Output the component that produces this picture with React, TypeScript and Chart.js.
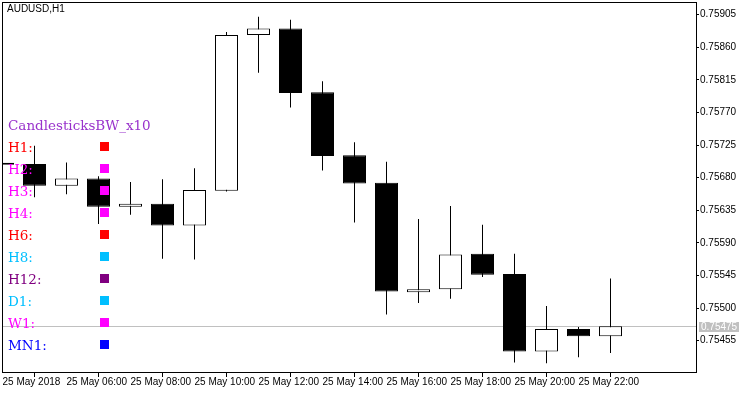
import React, { useEffect, useRef } from "react";
import { Chart, registerables } from "chart.js";

Chart.register(...registerables);

// ---- data ----
const hours = [4, 5, 6, 7, 8, 9, 10, 11, 12, 13, 14, 15, 16, 17, 18, 19, 20, 21, 22, 23];
const opens = [0.75699, 0.75699, 0.75669, 0.75679, 0.7564, 0.75644, 0.75614, 0.75662, 0.75877, 0.75886, 0.75798, 0.75711, 0.75673, 0.75522, 0.75526, 0.75575, 0.75547, 0.7544, 0.75471, 0.75461];
const highs = [0.757, 0.75724, 0.75701, 0.75682, 0.75674, 0.75678, 0.75693, 0.75881, 0.75902, 0.75898, 0.75813, 0.75729, 0.75702, 0.75623, 0.75641, 0.75615, 0.75575, 0.75503, 0.75474, 0.75541];
const lows = [0.75697, 0.75653, 0.75657, 0.75616, 0.75629, 0.75568, 0.75567, 0.75661, 0.75825, 0.75777, 0.7569, 0.75618, 0.75491, 0.75507, 0.75513, 0.75543, 0.75425, 0.75424, 0.75432, 0.75438];
const closes = [0.75698, 0.75669, 0.75679, 0.7564, 0.75644, 0.75614, 0.75663, 0.75877, 0.75886, 0.75797, 0.7571, 0.75672, 0.75523, 0.75526, 0.75574, 0.75546, 0.7544, 0.75471, 0.75461, 0.75475];

const priceTicks = [0.75455, 0.755, 0.75545, 0.7559, 0.75635, 0.7568, 0.75725, 0.7577, 0.75815, 0.7586, 0.75905];
const timeTickHours = [4, 6, 8, 10, 12, 14, 16, 18, 20, 22];
const timeTickLabels = [
  "25 May 2018",
  "25 May 06:00",
  "25 May 08:00",
  "25 May 10:00",
  "25 May 12:00",
  "25 May 14:00",
  "25 May 16:00",
  "25 May 18:00",
  "25 May 20:00",
  "25 May 22:00",
];
const currentPrice = 0.75475;
const symbolTitle = "AUDUSD,H1";
const indicatorName = "CandlesticksBW_x10";
const tfLabels = ["H1:", "H2:", "H3:", "H4:", "H6:", "H8:", "H12:", "D1:", "W1:", "MN1:"];
const tfColors = ["#FF0000", "#FF00FF", "#FF00FF", "#FF00FF", "#FF0000", "#00BFFF", "#800080", "#00BFFF", "#FF00FF", "#0000FF"];

const yMin = 0.7541178;
const yMax = 0.7592253;
const xMin = 3.984375;
const xMax = 25.671875;

const AXIS_FONT = "10px 'Liberation Sans', Arial, sans-serif";
const LEGEND_FONT = "13.5px 'DejaVu Serif', serif";

const overlayPlugin = {
  id: "mtOverlay",
  beforeDatasetsDraw(chart: any) {
    const { ctx, chartArea: a, scales } = chart;
    const py = Math.round(scales.y.getPixelForValue(currentPrice)) + 0.5;
    ctx.save();
    ctx.strokeStyle = "#C0C0C0";
    ctx.lineWidth = 1;
    ctx.beginPath();
    ctx.moveTo(a.left, py);
    ctx.lineTo(a.right, py);
    ctx.stroke();
    ctx.restore();
  },
  afterDatasetsDraw(chart: any) {
    const { ctx } = chart;
    ctx.save();
    ctx.font = LEGEND_FONT;
    ctx.textAlign = "left";
    ctx.textBaseline = "middle";
    ctx.fillStyle = "#9932CC";
    ctx.fillText(indicatorName, 8, 126.5);
    tfLabels.forEach((lab, i) => {
      const cy = 125 + 22 * (i + 1);
      ctx.fillStyle = tfColors[i];
      ctx.fillText(lab, 8, cy + 1.5);
      ctx.fillRect(100, cy - 5, 9, 9);
    });
    ctx.restore();
  },
  afterDraw(chart: any) {
    const { ctx, chartArea: a, scales } = chart;
    ctx.save();
    ctx.strokeStyle = "#000";
    ctx.lineWidth = 1;
    ctx.strokeRect(a.left + 0.5, a.top + 0.5, a.right - a.left, a.bottom - a.top);
    // header
    ctx.font = AXIS_FONT;
    ctx.fillStyle = "#000";
    ctx.textAlign = "left";
    ctx.textBaseline = "middle";
    ctx.fillText(symbolTitle, 7, 9.5);
    // current price label
    const py = Math.round(scales.y.getPixelForValue(currentPrice));
    ctx.fillStyle = "#C0C0C0";
    ctx.fillRect(a.right + 3, py - 4, 40, 10);
    ctx.fillStyle = "#FFFFFF";
    ctx.fillText(currentPrice.toFixed(5), a.right + 5, py + 1);
    ctx.restore();
  },
};

export default function App() {
  const ref = useRef<HTMLCanvasElement | null>(null);
  useEffect(() => {
    const canvas = ref.current;
    if (!canvas) return;
    const bodyData = hours.map((h, i) => ({ x: h, y: [opens[i], closes[i]] }));
    const wickData = hours.map((h, i) => ({ x: h, y: [lows[i], highs[i]] }));
    const chart = new Chart(canvas, {
      type: "bar",
      data: {
        datasets: [
          {
            data: bodyData as any,
            backgroundColor: hours.map((_, i) => (closes[i] >= opens[i] ? "#FFFFFF" : "#000000")),
            borderColor: "#000000",
            borderWidth: 1,
            borderSkipped: false,
            maxBarThickness: 23,
            grouped: false,
            minBarLength: 2,
          } as any,
          {
            data: wickData as any,
            backgroundColor: "#000000",
            borderWidth: 0,
            maxBarThickness: 1,
            grouped: false,
          } as any,
        ],
      },
      options: {
        animation: false,
        responsive: false,
        devicePixelRatio: 1,
        layout: { padding: { left: 2, top: 2, right: 0, bottom: 0 } },
        plugins: { legend: { display: false }, tooltip: { enabled: false }, title: { display: false } },
        scales: {
          x: {
            type: "linear",
            position: "bottom",
            min: xMin,
            max: xMax,
            offset: false,
            grid: { drawOnChartArea: false, drawTicks: true, tickLength: 5, tickColor: "#000", lineWidth: 1 },
            border: { display: true, color: "#000", width: 1 },
            afterBuildTicks: (scale: any) => {
              scale.ticks = timeTickHours.map((v) => ({ value: v }));
            },
            afterFit: (scale: any) => {
              scale.height = 22;
              scale.paddingLeft = 0;
              scale.paddingRight = 0;
              scale.paddingTop = 0;
              scale.paddingBottom = 0;
            },
            ticks: {
              autoSkip: false,
              maxRotation: 0,
              minRotation: 0,
              align: "start",
              padding: -1,
              color: "#000",
              font: { family: "'Liberation Sans', Arial, sans-serif", size: 10 },
              callback: (v: any) => {
                const idx = timeTickHours.indexOf(Number(v));
                return idx >= 0 ? timeTickLabels[idx] : "";
              },
            },
          },
          y: {
            type: "linear",
            position: "right",
            min: yMin,
            max: yMax,
            grid: { drawOnChartArea: false, drawTicks: true, tickLength: 3, tickColor: "#000", lineWidth: 1 },
            border: { display: true, color: "#000", width: 1 },
            afterBuildTicks: (scale: any) => {
              scale.ticks = priceTicks.map((v) => ({ value: v }));
            },
            afterFit: (scale: any) => {
              scale.width = 54;
              scale.paddingLeft = 0;
              scale.paddingRight = 0;
              scale.paddingTop = 0;
              scale.paddingBottom = 0;
            },
            ticks: {
              autoSkip: false,
              padding: 1,
              color: "#000",
              font: { family: "'Liberation Sans', Arial, sans-serif", size: 10 },
              callback: (v: any) => Number(v).toFixed(5),
            },
          },
        },
      },
      plugins: [overlayPlugin],
    });
    return () => chart.destroy();
  }, []);
  return (
    <div style={{ position: "fixed", left: 0, top: 0, width: 750, height: 394, background: "#fff" }}>
      <canvas ref={ref} width={750} height={394} style={{ display: "block", width: 750, height: 394 }} />
    </div>
  );
}
